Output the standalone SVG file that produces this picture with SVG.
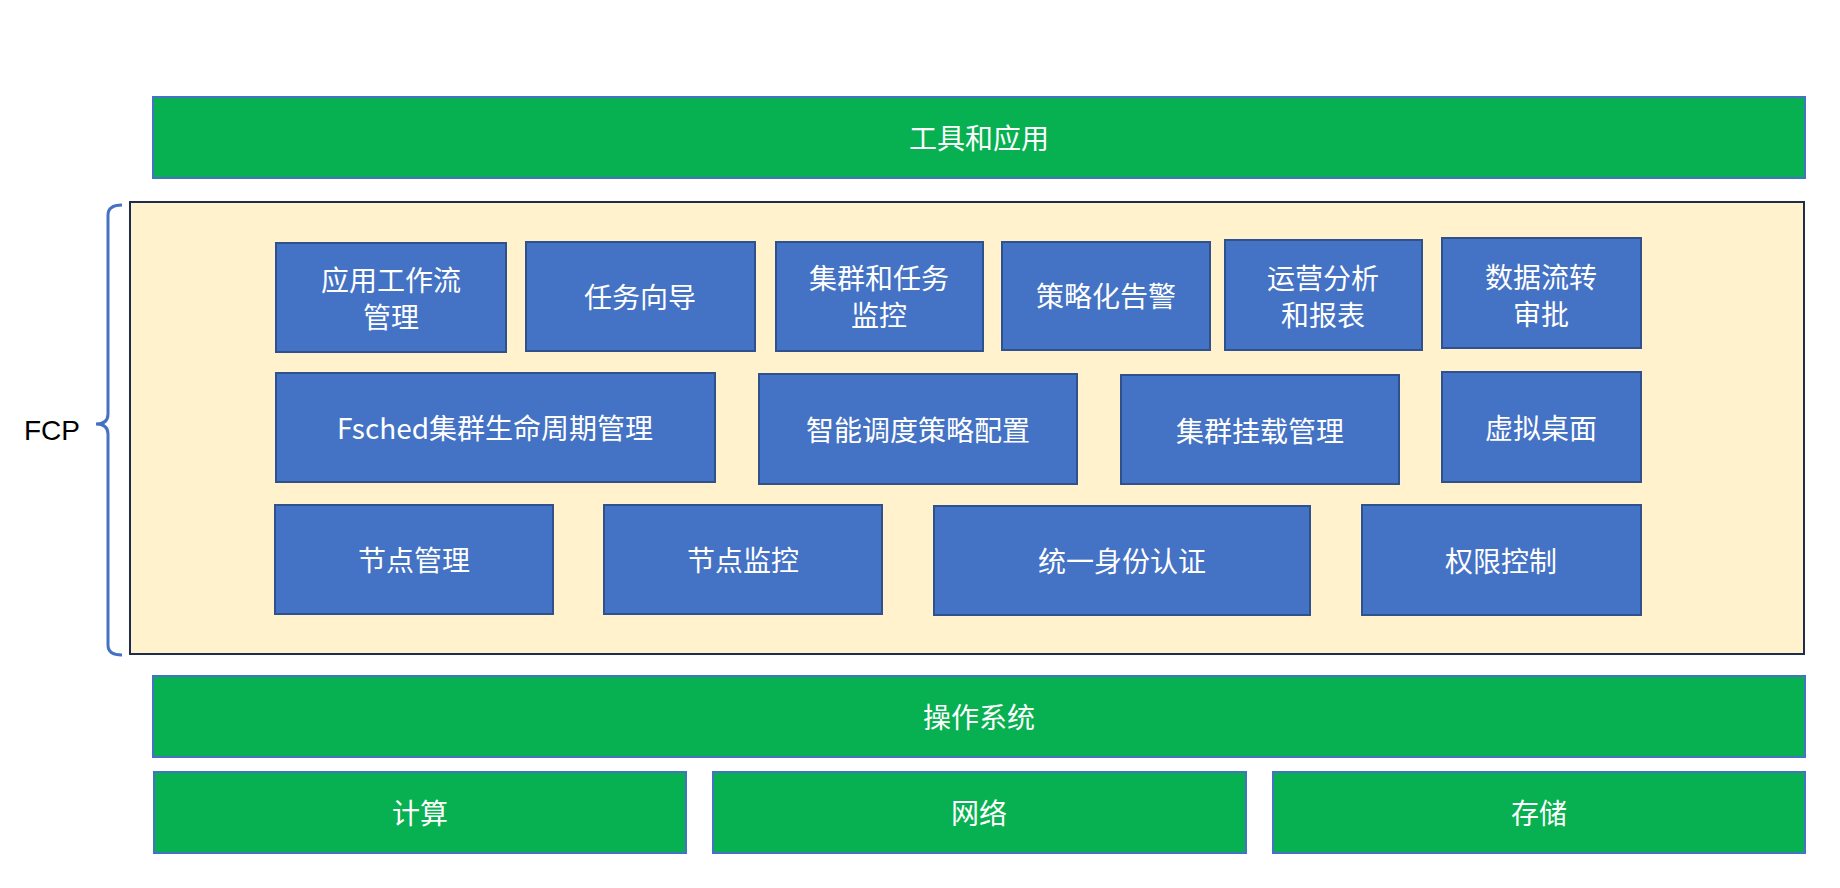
<svg xmlns="http://www.w3.org/2000/svg" width="1840" height="888" viewBox="0 0 1840 888">
<style>
.g{fill:#07b050;stroke:#4472c4;stroke-width:2}
.b{fill:#4472c4;stroke:#2f528f;stroke-width:2}
.t{fill:#fff;font-family:"Noto Sans CJK SC","Noto Sans",sans-serif;font-size:28px;text-anchor:middle;dominant-baseline:central}
</style>
<rect width="1840" height="888" fill="#fff"/>
<g id="tools"><rect class="g" x="153" y="97" width="1652" height="81"/><text class="t" x="979" y="137">工具和应用</text></g>
<g id="fcp">
<rect x="130" y="202" width="1674" height="452" fill="#fff2cc" stroke="#1f2d4d" stroke-width="2"/>
<path d="M122,205 Q108,205 108,215 L108,414 Q108,424 96,424 Q108,424 108,434 L108,645 Q108,655 122,655" fill="none" stroke="#4472c4" stroke-width="3"/>
<text x="52" y="430" font-family="Liberation Sans,sans-serif" font-size="28" text-anchor="middle" dominant-baseline="central">FCP</text>
</g>
<g id="n1"><rect class="b" x="276" y="243" width="230" height="109"/><text class="t" x="391" y="279">应用工作流</text><text class="t" x="391" y="316">管理</text></g>
<g id="n2"><rect class="b" x="526" y="242" width="229" height="109"/><text class="t" x="640" y="296">任务向导</text></g>
<g id="n3"><rect class="b" x="776" y="242" width="207" height="109"/><text class="t" x="879" y="277">集群和任务</text><text class="t" x="879" y="314">监控</text></g>
<g id="n4"><rect class="b" x="1002" y="242" width="208" height="108"/><text class="t" x="1106" y="295">策略化告警</text></g>
<g id="n5"><rect class="b" x="1225" y="240" width="197" height="110"/><text class="t" x="1323" y="277">运营分析</text><text class="t" x="1323" y="314">和报表</text></g>
<g id="n6"><rect class="b" x="1442" y="238" width="199" height="110"/><text class="t" x="1541" y="276">数据流转</text><text class="t" x="1541" y="313">审批</text></g>
<g id="n7"><rect class="b" x="276" y="373" width="439" height="109"/><text class="t" x="495" y="427">Fsched集群生命周期管理</text></g>
<g id="n8"><rect class="b" x="759" y="374" width="318" height="110"/><text class="t" x="918" y="429">智能调度策略配置</text></g>
<g id="n9"><rect class="b" x="1121" y="375" width="278" height="109"/><text class="t" x="1260" y="430">集群挂载管理</text></g>
<g id="n10"><rect class="b" x="1442" y="372" width="199" height="110"/><text class="t" x="1541" y="427">虚拟桌面</text></g>
<g id="n11"><rect class="b" x="275" y="505" width="278" height="109"/><text class="t" x="414" y="559">节点管理</text></g>
<g id="n12"><rect class="b" x="604" y="505" width="278" height="109"/><text class="t" x="743" y="559">节点监控</text></g>
<g id="n13"><rect class="b" x="934" y="506" width="376" height="109"/><text class="t" x="1122" y="560">统一身份认证</text></g>
<g id="n14"><rect class="b" x="1362" y="505" width="279" height="110"/><text class="t" x="1501" y="560">权限控制</text></g>
<g id="os"><rect class="g" x="153" y="676" width="1652" height="81"/><text class="t" x="979" y="716">操作系统</text></g>
<g id="compute"><rect class="g" x="154" y="772" width="532" height="81"/><text class="t" x="420" y="812">计算</text></g>
<g id="network"><rect class="g" x="713" y="772" width="533" height="81"/><text class="t" x="979" y="812">网络</text></g>
<g id="storage"><rect class="g" x="1273" y="772" width="532" height="81"/><text class="t" x="1539" y="812">存储</text></g>
<g id="connectors"></g>
</svg>
